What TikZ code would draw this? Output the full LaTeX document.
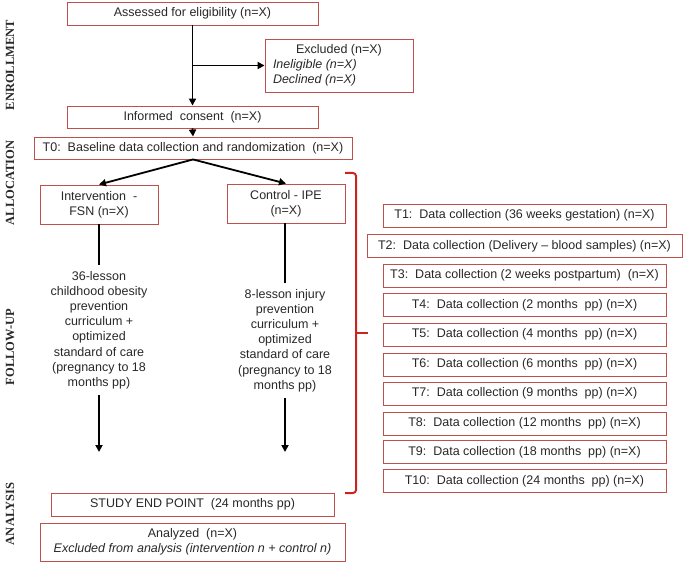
\documentclass[tikz,border=0pt]{standalone}
\usepackage{fontspec}
\setmainfont{Liberation Sans}
\newfontfamily\labfont{Liberation Serif}
\usetikzlibrary{arrows.meta}
\definecolor{boxc}{RGB}{192,80,77}
\definecolor{brc}{RGB}{204,36,30}
\definecolor{txt}{RGB}{40,40,40}
\begin{document}
\begin{tikzpicture}[x=1pt,y=-1pt,
  box/.style={draw=boxc, line width=0.9pt, rectangle, inner sep=0pt, align=center,
    font=\fontsize{12.5}{15.2}\selectfont, text=txt},
  tbox/.style={box, minimum width=283pt, minimum height=23pt},
  ttext/.style={align=center, font=\fontsize{12.5}{15.2}\selectfont, text=txt, inner xsep=0pt, inner ysep=6pt},
  lab/.style={rotate=90, font=\labfont\bfseries\fontsize{12.5}{14}\selectfont, text=txt},
  arr/.style={-{Triangle[length=7pt,width=7pt]}, line width=1.8pt},
  ln/.style={line width=1.8pt},
  brace/.style={draw=brc, line width=2pt}]
\useasboundingbox (0,0) rectangle (685,564);

% side labels
\node[lab] (lenr) at (10,65) {ENROLLMENT};
\node[lab] (lall) at (10,183) {ALLOCATION};
\node[lab] (lfol) at (10,347) {FOLLOW-UP};
\node[lab] (lana) at (10,514) {ANALYSIS};

% main flow
\node[box, minimum width=251pt, minimum height=23pt] (assess) at (192.5,13.5) {Assessed for eligibility (n=X)};
\node[box, minimum width=148pt, minimum height=53pt] (excl) at (339,65.5)
  {\parbox{132pt}{\centering Excluded (n=X)\par\raggedright\itshape Ineligible (n=X)\\ Declined (n=X)}};
\node[box, minimum width=251pt, minimum height=22pt] (consent) at (192.5,117) {Informed\ \ consent\ \ (n=X)};
\node[box, minimum width=318pt, minimum height=22pt] (t0) at (193,148) {T0:\ \ Baseline data collection and randomization\ \ (n=X)};
\node[box, minimum width=118pt, minimum height=39pt] (interv) at (99,204.5) {Intervention\ \ -\\FSN (n=X)};
\node[box, minimum width=118pt, minimum height=39pt] (control) at (286,203.5) {Control - IPE\\(n=X)};

\node[ttext] (itext) at (99,330) {36-lesson\\childhood obesity\\prevention\\curriculum +\\optimized\\standard of care\\(pregnancy to 18\\months pp)};
\node[ttext] (ctext) at (285,340.5) {8-lesson injury\\prevention\\curriculum +\\optimized\\standard of care\\(pregnancy to 18\\months pp)};

\coordinate (iend) at (99,452);
\coordinate (cend) at (285,452);

\node[box, minimum width=283pt, minimum height=23pt] (endp) at (192.5,504.5) {STUDY END POINT\ \ (24 months pp)};
\node[box, minimum width=305pt, minimum height=38pt] (anal) at (192.5,542) {Analyzed\ \ (n=X)\\\textit{Excluded from analysis (intervention n + control n)}};

% connectors
\draw[arr] (assess.south) -- (consent.north);
\draw[arr] (assess.south |- excl.west) -- (excl.west);
\draw[arr] (consent.south) -- (t0.north);
\draw[arr] (t0.south) -- (interv.north);
\draw[arr] (t0.south) -- (control.north);
\draw[ln] (interv.south) -- (itext.north);
\draw[ln] (control.south -| ctext.north) -- (ctext.north);
\draw[arr] (itext.south) -- (iend);
\draw[arr] (ctext.south) -- (cend);

% data collection boxes
\node[tbox] (t1) at (524.5,215.5) {T1:\ \ Data collection (36 weeks gestation) (n=X)};
\node[tbox, minimum width=315pt] (t2) at (524.5,246) {T2:\ \ Data collection (Delivery – blood samples) (n=X)};
\node[tbox] (t3) at (524.5,275.5) {T3:\ \ Data collection (2 weeks postpartum)\ \ (n=X)};
\node[tbox] (t4) at (524.5,305) {T4:\ \ Data collection (2 months\ \ pp) (n=X)};
\node[tbox] (t5) at (524.5,334.5) {T5:\ \ Data collection (4 months\ \ pp) (n=X)};
\node[tbox] (t6) at (524.5,364.5) {T6:\ \ Data collection (6 months\ \ pp) (n=X)};
\node[tbox] (t7) at (524.5,393.5) {T7:\ \ Data collection (9 months\ \ pp) (n=X)};
\node[tbox] (t8) at (524.5,423.5) {T8:\ \ Data collection (12 months\ \ pp) (n=X)};
\node[tbox] (t9) at (524.5,452) {T9:\ \ Data collection (18 months\ \ pp) (n=X)};
\node[tbox] (t10) at (524.5,481) {T10:\ \ Data collection (24 months\ \ pp) (n=X)};

% bracket
\draw[brace, rounded corners=3pt] (345,173) -- (356,173) -- (356,493) -- (345,493);
\draw[brace] (356,333) -- (368,333);
\end{tikzpicture}
\end{document}
